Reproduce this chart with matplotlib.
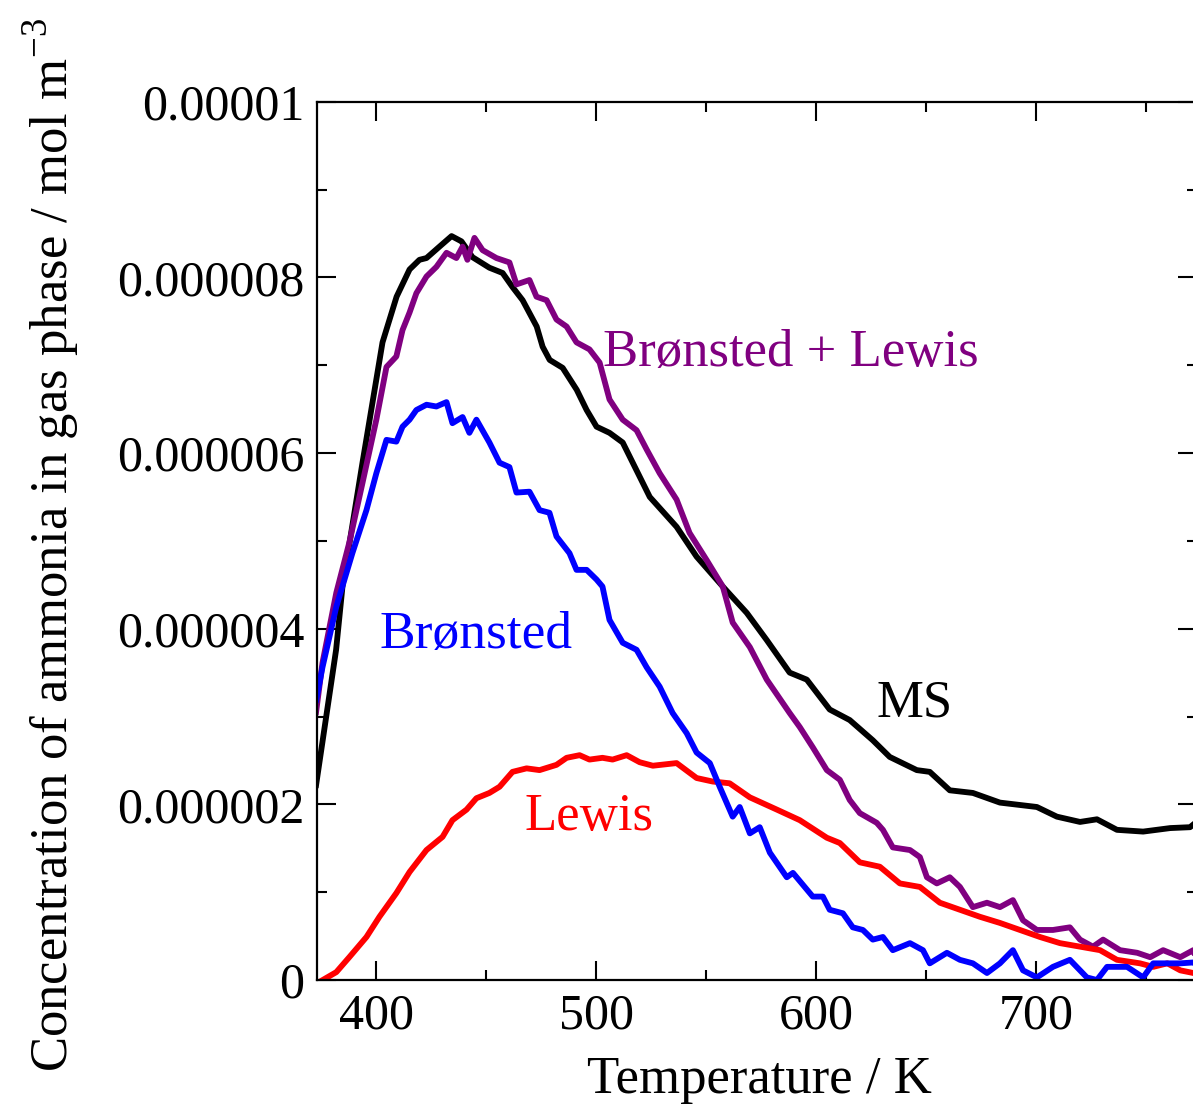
import numpy as np
import matplotlib
matplotlib.use('Agg')
import matplotlib.pyplot as plt
from matplotlib.ticker import MultipleLocator

matplotlib.rcParams.update({'font.family': 'serif'})
matplotlib.rcParams.update({'font.serif': ['Liberation Serif', 'DejaVu Serif']})
matplotlib.rcParams.update({'mathtext.fontset': 'custom'})
matplotlib.rcParams.update({'mathtext.rm': 'Liberation Serif'})
matplotlib.rcParams.update({'font.size': 36})

# values, concentration in 1e-6 mol m^-3
ms_T = [372.7, 381.8, 384.7, 393.8, 402.9, 409.3, 415.2, 419.7, 422.9, 428.8,
        434.3, 438.8, 443.8, 451.5, 457.5, 462.0, 466.6, 473.0, 475.7, 478.9,
        484.8, 491.2, 495.7, 500.2, 506.1, 512.1, 524.4, 536.6, 545.7, 557.6,
        568.5, 577.6, 588.0, 595.8, 606.2, 615.3, 625.8, 633.5, 645.8, 651.7,
        660.8, 671.3, 683.6, 700.4, 709.5, 720.0, 727.7, 736.8, 748.7, 761.0,
        770.0, 773.0]
ms_C = [2.22, 3.76, 4.48, 5.89, 7.26, 7.78, 8.09, 8.20, 8.22, 8.35,
        8.47, 8.41, 8.23, 8.11, 8.05, 7.89, 7.74, 7.44, 7.21, 7.06,
        6.97, 6.72, 6.49, 6.30, 6.23, 6.12, 5.50, 5.16, 4.82, 4.48,
        4.18, 3.87, 3.50, 3.42, 3.08, 2.96, 2.73, 2.54, 2.39, 2.37,
        2.16, 2.13, 2.02, 1.97, 1.86, 1.80, 1.83, 1.71, 1.69, 1.73,
        1.74, 1.80]

bl_T = [372.7, 375.6, 381.9, 387.8, 393.8, 400.1, 404.7, 409.2, 412.0, 415.2,
        418.3, 422.9, 427.4, 432.0, 436.5, 439.3, 441.5, 444.7, 448.4, 454.7,
        460.6, 463.8, 469.7, 472.9, 477.5, 482.0, 486.6, 491.1, 497.0, 501.6,
        506.1, 512.1, 518.4, 523.0, 528.9, 536.6, 542.5, 550.3, 557.6, 562.1,
        569.9, 577.6, 588.0, 592.6, 598.5, 604.9, 610.8, 615.3, 619.9, 627.6,
        630.4, 634.9, 642.7, 647.2, 650.4, 654.9, 660.8, 665.4, 671.3, 677.7,
        683.6, 689.5, 694.1, 700.4, 707.7, 715.4, 720.0, 725.9, 730.5, 738.2,
        746.0, 751.9, 757.8, 765.6, 771.5, 773.0]
bl_C = [3.05, 3.61, 4.41, 4.98, 5.66, 6.38, 6.98, 7.10, 7.40, 7.60,
        7.82, 8.01, 8.12, 8.28, 8.22, 8.35, 8.20, 8.45, 8.31, 8.22,
        8.17, 7.92, 7.97, 7.78, 7.74, 7.52, 7.44, 7.26, 7.18, 7.03,
        6.61, 6.38, 6.26, 6.04, 5.77, 5.47, 5.09, 4.78, 4.48, 4.07,
        3.79, 3.42, 3.04, 2.88, 2.65, 2.39, 2.28, 2.05, 1.90, 1.79,
        1.71, 1.51, 1.48, 1.40, 1.17, 1.10, 1.17, 1.06, 0.83, 0.88,
        0.83, 0.91, 0.68, 0.57, 0.57, 0.60, 0.46, 0.38, 0.46, 0.34,
        0.31, 0.26, 0.34, 0.26, 0.34, 0.23]

b_T = [372.8, 375.6, 381.9, 389.2, 395.6, 400.1, 404.7, 409.2, 412.0, 415.2,
       418.3, 422.9, 427.4, 432.0, 434.7, 439.3, 442.4, 445.6, 451.5, 456.1,
       460.6, 463.8, 469.7, 474.3, 478.8, 482.0, 487.9, 491.1, 495.7, 500.2,
       502.9, 506.1, 512.1, 518.4, 523.0, 528.9, 534.8, 541.2, 545.7, 551.7,
       556.2, 562.1, 565.3, 569.9, 574.4, 579.0, 586.7, 589.5, 598.5, 603.1,
       606.2, 612.2, 616.7, 621.3, 625.8, 630.4, 634.9, 642.7, 648.6, 651.7,
       659.5, 665.4, 671.3, 677.7, 683.6, 689.5, 694.1, 700.4, 707.7, 715.4,
       723.1, 727.7, 732.3, 741.4, 748.7, 753.3, 759.7, 765.6, 771.5, 773.0]
b_C = [3.19, 3.56, 4.25, 4.86, 5.35, 5.77, 6.15, 6.13, 6.30, 6.38,
       6.49, 6.55, 6.53, 6.58, 6.34, 6.41, 6.23, 6.38, 6.12, 5.89,
       5.84, 5.55, 5.56, 5.35, 5.32, 5.05, 4.86, 4.67, 4.67, 4.56,
       4.48, 4.10, 3.84, 3.76, 3.56, 3.34, 3.04, 2.81, 2.59, 2.47,
       2.20, 1.86, 1.97, 1.67, 1.74, 1.45, 1.17, 1.22, 0.95, 0.95,
       0.80, 0.76, 0.60, 0.57, 0.46, 0.49, 0.34, 0.42, 0.34, 0.19,
       0.31, 0.23, 0.19, 0.08, 0.19, 0.34, 0.11, 0.03, 0.15, 0.23,
       0.03, 0.00, 0.15, 0.15, 0.03, 0.19, 0.19, 0.19, 0.20, 0.18]

l_T = [375.7, 381.9, 387.8, 395.6, 401.5, 409.2, 415.2, 422.9, 430.2, 434.7,
       441.1, 445.6, 451.5, 456.1, 462.0, 468.4, 474.3, 482.0, 486.6, 492.5,
       497.0, 502.9, 507.5, 513.9, 519.8, 525.8, 536.6, 545.7, 553.0, 560.7,
       569.9, 582.2, 592.6, 604.9, 610.8, 619.9, 629.0, 638.1, 647.2, 656.3,
       665.4, 674.5, 683.6, 692.7, 701.8, 710.9, 720.0, 729.1, 736.8, 747.3,
       753.3, 759.7, 765.6, 771.5, 773.0]
l_C = [0.00, 0.09, 0.26, 0.49, 0.72, 0.99, 1.23, 1.48, 1.63, 1.82,
       1.94, 2.07, 2.13, 2.20, 2.37, 2.41, 2.39, 2.45, 2.53, 2.56,
       2.51, 2.53, 2.51, 2.56, 2.48, 2.44, 2.47, 2.30, 2.26, 2.24,
       2.08, 1.94, 1.82, 1.62, 1.56, 1.34, 1.29, 1.10, 1.06, 0.88,
       0.80, 0.72, 0.65, 0.57, 0.49, 0.42, 0.38, 0.34, 0.23, 0.19,
       0.15, 0.19, 0.11, 0.08, 0.07]

yticks = [0, 2e-6, 4e-6, 6e-6, 8e-6, 1e-5]
ytick_labels = ['0', '0.000002', '0.000004', '0.000006', '0.000008', '0.00001']
xticks = [400, 500, 600, 700]

fig = plt.figure(figsize=(11.93, 11.08), dpi=100)
ax = fig.add_axes([0.2655, 0.1155, 0.7375, 0.7927])

lw = 4.2
ax.plot(ms_T, np.array(ms_C) * 1e-6, color='black', lw=lw)
ax.plot(bl_T, np.array(bl_C) * 1e-6, color='#800080', lw=lw)
ax.plot(l_T, np.array(l_C) * 1e-6, color='#ff0000', lw=lw)
ax.plot(b_T, np.array(b_C) * 1e-6, color='#0000ff', lw=lw)

ax.text(503.0, 6.99e-6, 'Brønsted + Lewis', color='#800080', fontsize=38)
ax.text(401.5, 3.78e-6, 'Brønsted', color='#0000ff', fontsize=38.5)
ax.text(467.6, 1.71e-6, 'Lewis', color='#ff0000', fontsize=38)
ax.text(627.6, 3.0e-6, 'MS', color='black', fontsize=38)

ax.set_xlim(373, 773)
ax.set_ylim(0, 1e-5)
ax.set_xticks(xticks)
ax.set_yticks(yticks, labels=ytick_labels)
ax.xaxis.set_minor_locator(MultipleLocator(50))
ax.yaxis.set_minor_locator(MultipleLocator(1e-6))
ax.tick_params(which='both', direction='in', top=True, right=True, width=1.5, pad=9)
ax.tick_params(which='major', length=13.5)
ax.tick_params(which='minor', length=7)
for s in ax.spines.values():
    s.set_linewidth(1.6)

ax.set_xlabel('Temperature / K', fontsize=38)
ax.set_ylabel('Concentration of ammonia in gas phase / mol m$^{\\mathregular{-3}}$', fontsize=38)
ax.xaxis.set_label_coords(0.503, -0.086)
ax.yaxis.set_label_coords(-0.268, 0.495)

fig.savefig('out.png', dpi=100)
